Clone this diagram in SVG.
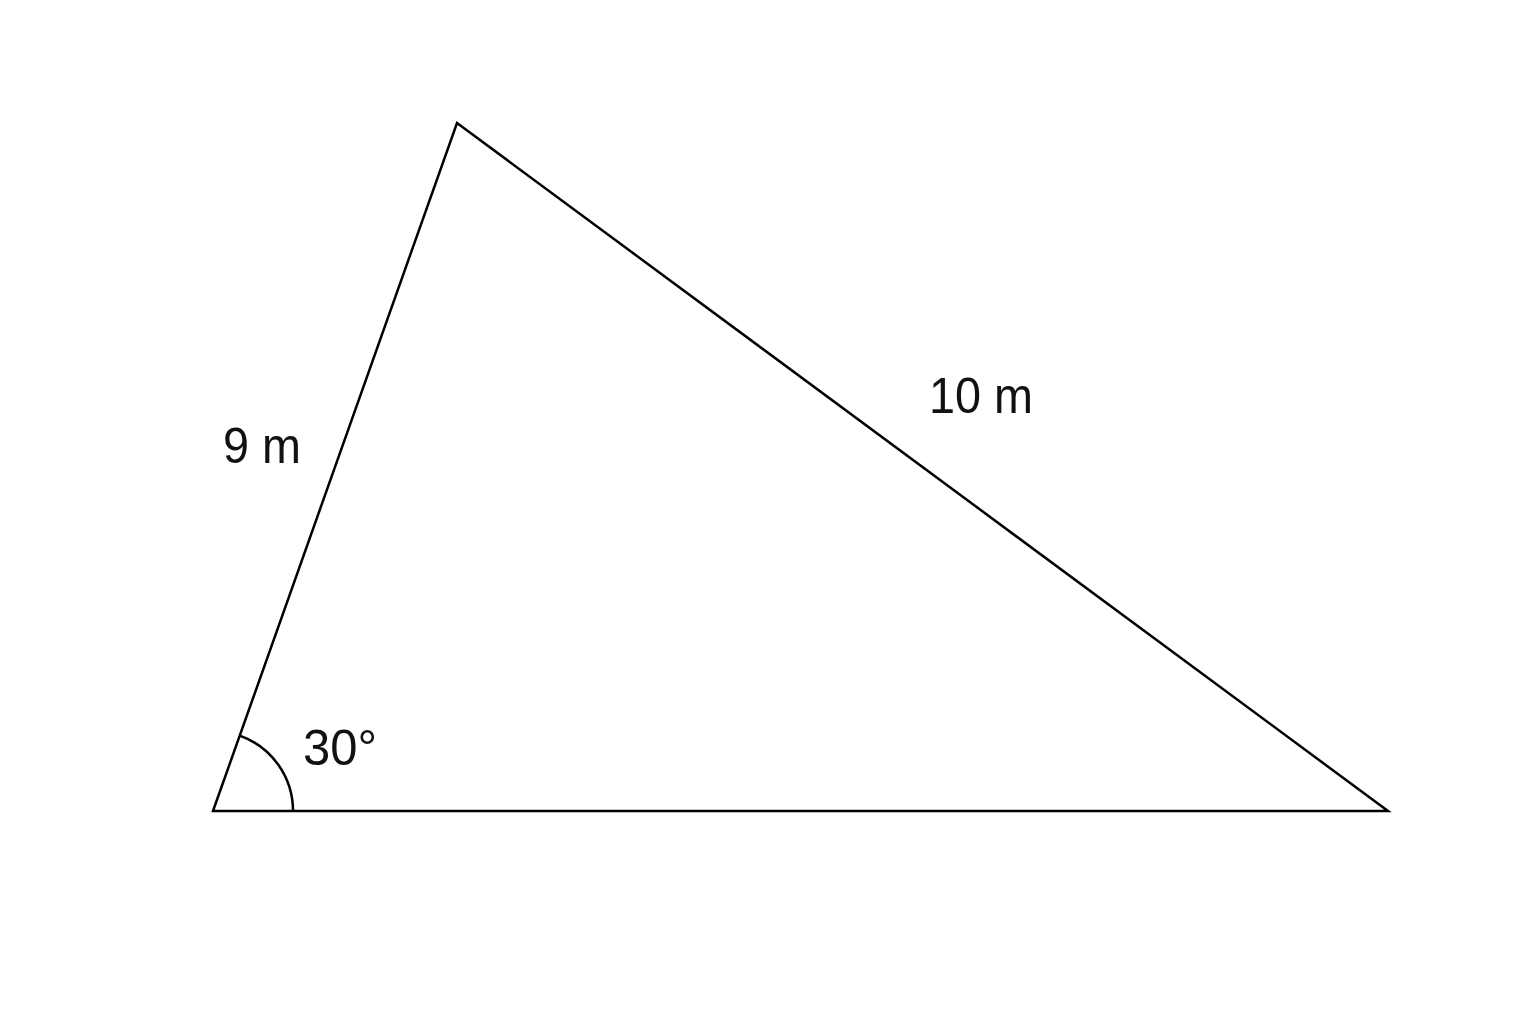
<svg xmlns="http://www.w3.org/2000/svg" width="1536" height="1024" viewBox="0 0 1536 1024">
<style>
.edge{fill:none;stroke:#000;stroke-width:2.5;stroke-linejoin:miter}
.lbl{font-family:"Liberation Sans",Arial,sans-serif;font-size:50px;fill:#111;text-anchor:middle}
</style>
<rect width="1536" height="1024" fill="#fff"/>
<g id="triangle">
<polygon class="edge" points="213,811 457,123 1388,811"/>
<path class="edge" d="M293,811 A80,80 0 0 0 239.7,735.6"/>
</g>
<g id="labels">
<text class="lbl" x="262" y="463" textLength="78" lengthAdjust="spacingAndGlyphs">9 m</text>
<text class="lbl" x="981" y="413" textLength="104" lengthAdjust="spacingAndGlyphs">10 m</text>
<text class="lbl" x="340" y="765" textLength="74" lengthAdjust="spacingAndGlyphs">30°</text>
</g>
</svg>
